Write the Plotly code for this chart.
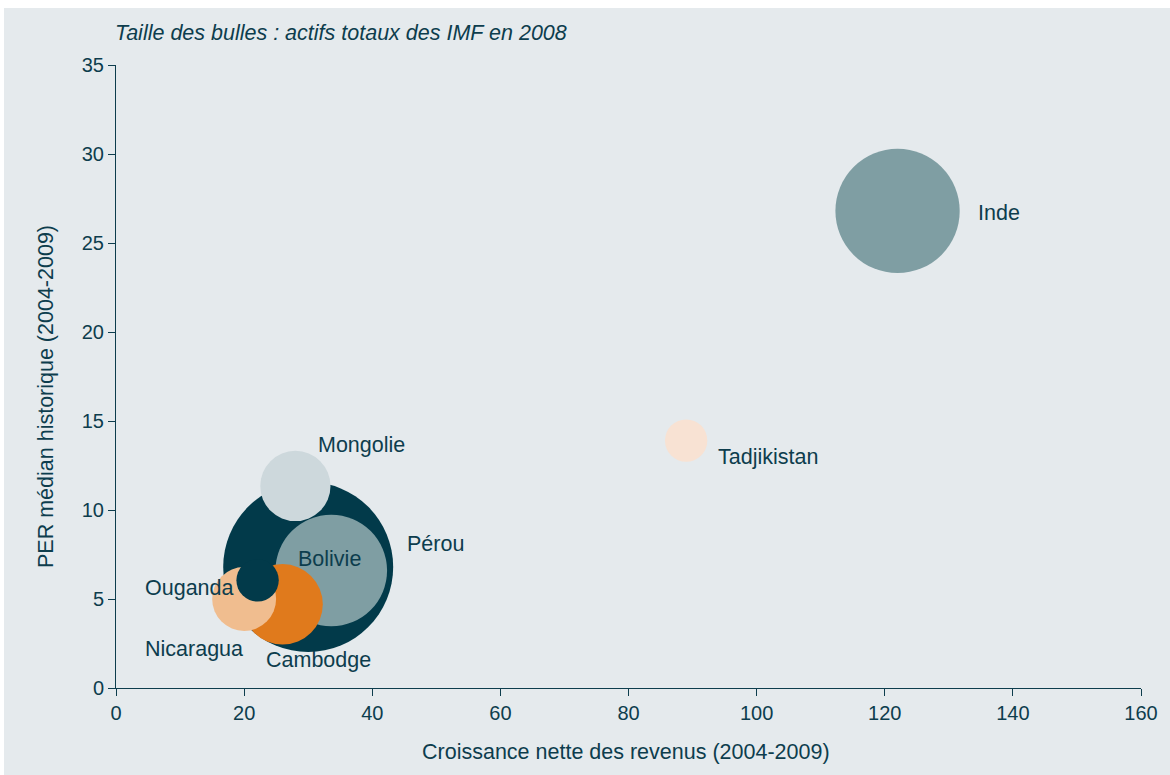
import plotly.graph_objects as go

# Data
pays = ["Inde", "Tadjikistan", "Pérou", "Bolivie", "Mongolie", "Cambodge", "Ouganda", "Nicaragua"]
croissance = [122.0, 89.0, 30.0, 33.6, 28.0, 26.0, 20.0, 22.1]
per = [26.8, 13.9, 6.8, 6.6, 11.35, 4.7, 5.0, 6.05]
actifs = [3.1, 0.36, 5.8, 2.5, 0.99, 1.3, 0.82, 0.36]
couleurs = ["#7f9ea3", "#f8e2d3", "#023a4a", "#7f9ea3", "#cdd8dc", "#e07a1c", "#f0bd8f", "#023a4a"]
# label pixel offsets relative to bubble centre
lab_dx = [78, 30, 97, -2, 21, -19, -101, -115]
lab_dy = [-2, -16, 23, 12, 41, -56, 11, -69]
lab_anchor = ["left", "left", "left", "center", "left", "left", "left", "left"]

xticks = [0, 20, 40, 60, 80, 100, 120, 140, 160]
yticks = [0, 5, 10, 15, 20, 25, 30, 35]

BG = "#e5eaed"
TXT = "#0d3d4d"
FONT = "Liberation Sans, Arial, sans-serif"
PW, PH = 1025, 623

fig = go.Figure()
fig.add_trace(go.Scatter(
    x=croissance, y=per, mode="markers",
    marker=dict(size=actifs, sizemode="area", sizeref=2 * 5.8 / 170**2,
                color=couleurs, opacity=1, line=dict(width=0)),
    hovertext=pays, showlegend=False, cliponaxis=False,
))

for p, x, y, dx, dy, anc in zip(pays, croissance, per, lab_dx, lab_dy, lab_anchor):
    fig.add_annotation(x=x, y=y, text=p, showarrow=False, xanchor=anc, yanchor="middle",
                       xshift=dx, yshift=dy, font=dict(size=21.5, color=TXT, family=FONT))

fig.add_annotation(xref="paper", yref="paper", x=-3 / PW, y=1 + (65 - 33) / PH,
                   text="<i>Taille des bulles : actifs totaux des IMF en 2008</i>",
                   showarrow=False, xanchor="left", yanchor="middle", font=dict(size=21.5, color=TXT, family=FONT))
fig.add_annotation(xref="paper", yref="paper", x=-(116 - 46) / PW, y=(688 - 397) / PH,
                   text="PER médian historique (2004-2009)", textangle=-90, showarrow=False,
                   xanchor="center", yanchor="middle", font=dict(size=21.5, color=TXT, family=FONT))
fig.add_annotation(xref="paper", yref="paper", x=(626 - 116) / PW, y=-(752 - 688) / PH,
                   text="Croissance nette des revenus (2004-2009)", showarrow=False,
                   xanchor="center", yanchor="middle", font=dict(size=21.5, color=TXT, family=FONT))

fig.add_shape(type="rect", xref="paper", yref="paper", x0=-(116 - 4) / PW, x1=1 + 29 / PW,
              y0=-(775 - 688 + 2) / PH, y1=1 + (65 - 8) / PH, fillcolor=BG, line=dict(width=0), layer="below")

axis_common = dict(showgrid=False, zeroline=False, showline=True, linecolor=TXT, linewidth=1,
                   ticks="outside", ticklen=7, tickcolor=TXT, tickfont=dict(size=20, color=TXT, family=FONT))
fig.update_xaxes(range=[0, 160], tickvals=xticks, **axis_common)
fig.update_yaxes(range=[0, 35], tickvals=yticks, **axis_common)

fig.update_layout(width=1170, height=775, margin=dict(l=116, r=29, t=65, b=87),
                  paper_bgcolor="white", plot_bgcolor=BG, font=dict(family=FONT, color=TXT))

fig.write_html("out.html")
